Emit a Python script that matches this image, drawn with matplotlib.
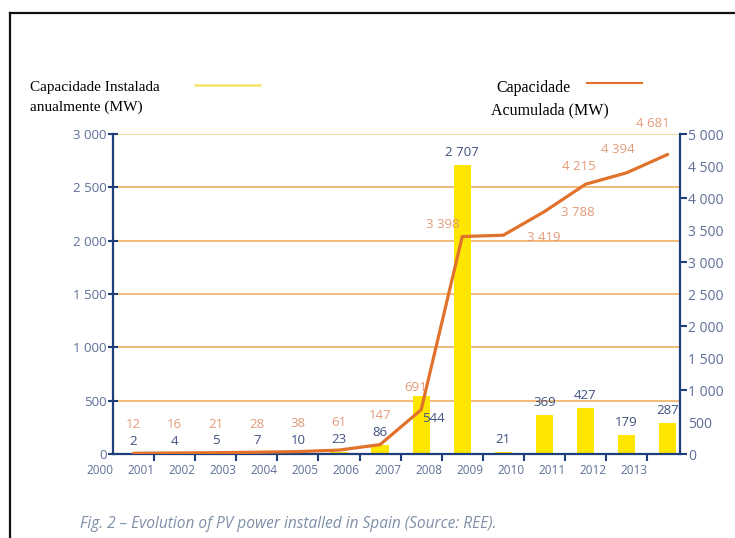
import matplotlib
matplotlib.use("Agg")
import matplotlib.pyplot as plt
from matplotlib.lines import Line2D
from matplotlib.ticker import FuncFormatter
import numpy as np

# Data
years = ["2000", "2001", "2002", "2003", "2004", "2005", "2006",
         "2007", "2008", "2009", "2010", "2011", "2012", "2013"]
annual = [2, 4, 5, 7, 10, 23, 86, 544, 2707, 21, 369, 427, 179, 287]
cumulative = [12, 16, 21, 28, 38, 61, 147, 691, 3398, 3419, 3788, 4215, 4394, 4681]
left_ticks = [0, 500, 1000, 1500, 2000, 2500, 3000]
right_ticks = [0, 500, 1000, 1500, 2000, 2500, 3000, 3500, 4000, 4500, 5000]

NAVY = "#1f3f7a"
TICKCOL = "#5d6e98"
BARLAB = "#3f5080"
CUMLAB = "#e39a7a"
YELLOW = "#ffe600"
ORANGE = "#e0722c"
GRID = "#f0b56e"


def thousands(v, pos=None):
    return f"{int(v):,}".replace(",", " ")


fig = plt.figure(figsize=(7.35, 5.38), dpi=100)
ax = fig.add_axes([0.1537, 0.1561, 0.7715, 0.5948])
ax2 = ax.twinx()

x = np.arange(len(years)) + 0.5

ax.bar(x, annual, width=0.42, color=YELLOW, zorder=2)
ax2.plot(x, cumulative, color=ORANGE, lw=2.3, zorder=3, solid_capstyle="round")

ax.set_xlim(0, 13.8)
ax.set_ylim(0, 3000)
ax2.set_ylim(0, 5000)

# grid lines
for v in left_ticks[1:]:
    ax.axhline(v, color=GRID if v < 3000 else "#ecd98a", lw=1.3, zorder=1)

# spines
for a in (ax, ax2):
    a.spines["top"].set_visible(False)
    a.patch.set_visible(False)
ax.spines["right"].set_visible(False)
ax2.spines["left"].set_visible(False)
ax2.spines["bottom"].set_visible(False)
ax.spines["left"].set_color(NAVY)
ax.spines["left"].set_linewidth(1.6)
ax.spines["bottom"].set_color(NAVY)
ax.spines["bottom"].set_linewidth(1.6)
ax2.spines["right"].set_color(NAVY)
ax2.spines["right"].set_linewidth(1.6)

# left axis ticks
ax.set_yticks(left_ticks)
ax.yaxis.set_major_formatter(FuncFormatter(thousands))
ax.tick_params(axis="y", direction="inout", length=7, width=1.5, color=NAVY,
               labelcolor=TICKCOL, labelsize=9.5, pad=1)
for lab in ax.get_yticklabels():
    lab.set_family("Open Sans")

# right axis ticks: marks every 1000, labels every 500
ax2.set_yticks([t for t in right_ticks if t % 1000 == 0])
ax2.set_yticks([t for t in right_ticks if t % 1000 != 0], minor=True)
ax2.yaxis.set_major_formatter(FuncFormatter(thousands))
ax2.yaxis.set_minor_formatter(FuncFormatter(thousands))
ax2.tick_params(axis="y", which="major", direction="out", length=5, width=1.5,
                color=NAVY, labelcolor=TICKCOL, labelsize=10, pad=1)
ax2.tick_params(axis="y", which="minor", length=0, labelcolor=TICKCOL,
                labelsize=10, pad=6)
for lab in ax2.get_yticklabels(which="both"):
    lab.set_family("Open Sans")

# x axis: tick marks between categories, labels shifted left
ax.set_xticks(np.arange(1, 14))
ax.set_xticklabels([])
ax.tick_params(axis="x", direction="out", length=5, width=1.5, color=NAVY)
for i, yr in enumerate(years):
    ax.annotate(yr, (i - 0.32, 0), xytext=(0, -12), textcoords="offset points",
                ha="center", va="center", fontsize=8.5, color=TICKCOL,
                family="Open Sans", annotation_clip=False)

# bar value labels
bar_off = {7: (9, -16)}
for i, v in enumerate(annual):
    dx, dy = bar_off.get(i, (0, 9))
    ax.annotate(thousands(v), (x[i], v), xytext=(dx, dy), textcoords="offset points",
                ha="center", va="center", fontsize=9.5, color=BARLAB,
                family="Open Sans", zorder=5)

# cumulative value labels
cum_off = {7: (-4, 16), 8: (-14, 9), 9: (29, -2), 10: (24, -1),
           11: (-5, 13), 12: (-6, 17), 13: (-11, 22)}
for i, v in enumerate(cumulative):
    if i in cum_off:
        ax2.annotate(thousands(v), (x[i], v), xytext=cum_off[i],
                     textcoords="offset points", ha="center", va="center",
                     fontsize=9.5, color=CUMLAB, family="Open Sans", zorder=5)
    else:
        ax.annotate(thousands(v), (x[i], annual[i]), xytext=(0, 21),
                    textcoords="offset points", ha="center", va="center",
                    fontsize=9.5, color=CUMLAB, family="Open Sans", zorder=5)

# legend-like labels
serif = "Liberation Serif"
fig.text(30 / 735, 1 - 87 / 538, "Capacidade Instalada", family=serif,
         fontsize=11, va="center", ha="left")
fig.text(30 / 735, 1 - 107 / 538, "anualmente (MW)", family=serif,
         fontsize=11, va="center", ha="left")
fig.add_artist(Line2D([195 / 735, 260 / 735], [1 - 85 / 538] * 2,
                      color="#f3e66a", lw=1.8))
fig.text(533 / 735, 1 - 88 / 538, "Capacidade", family=serif,
         fontsize=11.5, va="center", ha="center")
fig.text(550 / 735, 1 - 110 / 538, "Acumulada (MW)", family=serif,
         fontsize=11.5, va="center", ha="center")
fig.add_artist(Line2D([587 / 735, 642 / 735], [1 - 83 / 538] * 2,
                      color=ORANGE, lw=1.5))

# caption
fig.text(80 / 735, 1 - 524 / 538,
         "Fig. 2 \u2013 Evolution of PV power installed in Spain (Source: REE).",
         family="Open Sans", style="italic", fontsize=11.2, color="#7f8fa8",
         va="center", ha="left")

# outer frame (left and top edges)
fig.add_artist(Line2D([10 / 735, 10 / 735], [0, 1 - 13 / 538], color="#111111", lw=1.6))
fig.add_artist(Line2D([10 / 735, 1], [1 - 13 / 538] * 2, color="#111111", lw=1.6))

fig.savefig("out.png", dpi=100)
